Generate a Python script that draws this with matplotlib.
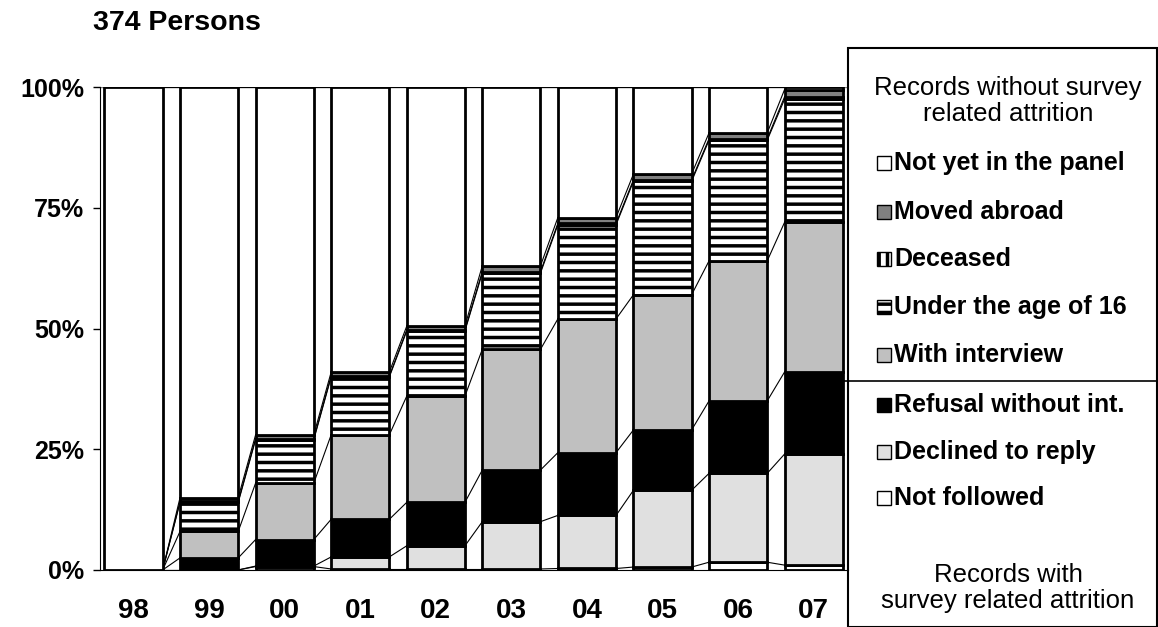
import matplotlib.pyplot as plt
import matplotlib.patches as mpatches
import numpy as np

plt.rcParams['font.family'] = ['Liberation Sans', 'DejaVu Sans']
plt.rcParams['hatch.linewidth'] = 2.5

years = ["98", "99", "00", "01", "02", "03", "04", "05", "06", "07"]
# shares in percent, bottom to top
not_followed = [0.0, 0.0, 0.7, 0.2, 0.2, 0.2, 0.3, 0.6, 1.6, 1.0]
declined = [0.0, 0.0, 0.1, 2.5, 4.8, 9.8, 11.0, 15.9, 18.4, 23.0]
refusal = [0.0, 2.5, 5.5, 7.8, 9.0, 10.7, 13.0, 12.5, 15.0, 17.0]
interview = [0.0, 5.5, 11.7, 17.5, 22.0, 25.0, 27.7, 28.0, 29.0, 31.0]
under16 = [0.0, 6.0, 9.0, 12.0, 13.5, 15.8, 19.5, 23.5, 25.0, 25.5]
deceased = [0.0, 0.2, 0.2, 0.2, 0.2, 0.3, 0.3, 0.3, 0.3, 0.5]
moved = [0.0, 0.8, 0.8, 0.8, 0.8, 1.2, 1.2, 1.2, 1.2, 1.5]
not_yet = [100 - sum(v) for v in zip(not_followed, declined, refusal, interview, under16, deceased, moved)]

series = [
    (not_followed, "white", None),
    (declined, "#e0e0e0", None),
    (refusal, "black", None),
    (interview, "#c0c0c0", None),
    (under16, "white", "--"),
    (deceased, "white", "||"),
    (moved, "#808080", None),
    (not_yet, "white", None),
]

fig = plt.figure(figsize=(11.58, 6.27), dpi=100)
ax = fig.add_axes([0.086, 0.091, 0.646, 0.770])
x = np.arange(len(years))
w = 0.77
bottom = np.zeros(len(years))
for vals, color, hatch in series:
    vals = np.array(vals)
    ax.bar(x, vals, w, bottom=bottom, color=color, hatch=hatch,
           edgecolor="black", linewidth=2.0, zorder=2)
    top = bottom + vals
    # series lines between bars
    for i in range(len(years) - 1):
        ax.plot([x[i] + w / 2, x[i + 1] - w / 2], [top[i], top[i + 1]],
                color="black", linewidth=0.8, zorder=1)
    bottom = top

ax.set_xlim(-0.45, 9.45)
ax.set_ylim(0, 100)
ax.set_yticks([0, 25, 50, 75, 100])
ax.set_yticklabels(["0%", "25%", "50%", "75%", "100%"], fontsize=18, fontweight="bold")
ax.set_xticks(x)
ax.set_xticklabels(years, fontsize=20, fontweight="bold")
ax.tick_params(axis="x", length=0, pad=20)
ax.tick_params(axis="y", length=5, width=1, direction="out", pad=6)
for s in ["top", "right"]:
    ax.spines[s].set_visible(False)
ax.axhline(100, color="gray", linewidth=1, zorder=0)

fig.text(177 / 1158, 1 - 23 / 627, "374 Persons", fontsize=20.5, fontweight="bold",
         va="center", ha="center")

# legend box
W, H = 1158, 627
fig.patches.append(mpatches.Rectangle((848 / W, 0), 1 - 848 / W - 0.001, 1 - 48 / H,
                                      transform=fig.transFigure, fill=False,
                                      edgecolor="black", linewidth=1.5))
fig.lines.append(plt.Line2D([840 / W, 1], [1 - 381 / H] * 2, transform=fig.transFigure,
                            color="black", linewidth=1.2))
fig.text(1008 / W, 1 - 101 / H, "Records without survey\nrelated attrition", ha="center",
         va="center", fontsize=18.5, linespacing=1.15)
fig.text(1008 / W, 1 - 588 / H, "Records with\nsurvey related attrition", ha="center",
         va="center", fontsize=18.5, linespacing=1.15)
items = [
    ("Not yet in the panel", "white", None, 163),
    ("Moved abroad", "#808080", None, 212),
    ("Deceased", "white", "||", 259),
    ("Under the age of 16", "white", "--", 307),
    ("With interview", "#c0c0c0", None, 355),
    ("Refusal without int.", "black", None, 405),
    ("Declined to reply", "#e0e0e0", None, 452),
    ("Not followed", "white", None, 498),
]
for label, color, hatch, yy in items:
    fig.patches.append(mpatches.Rectangle((877 / W, 1 - (yy + 7) / H), 14 / W, 14 / H,
                                          transform=fig.transFigure, facecolor=color,
                                          hatch=hatch, edgecolor="black", linewidth=1))
    fig.text(894 / W, 1 - yy / H, label, fontsize=18, fontweight="bold", va="center")

fig.savefig("out.png", dpi=100)
